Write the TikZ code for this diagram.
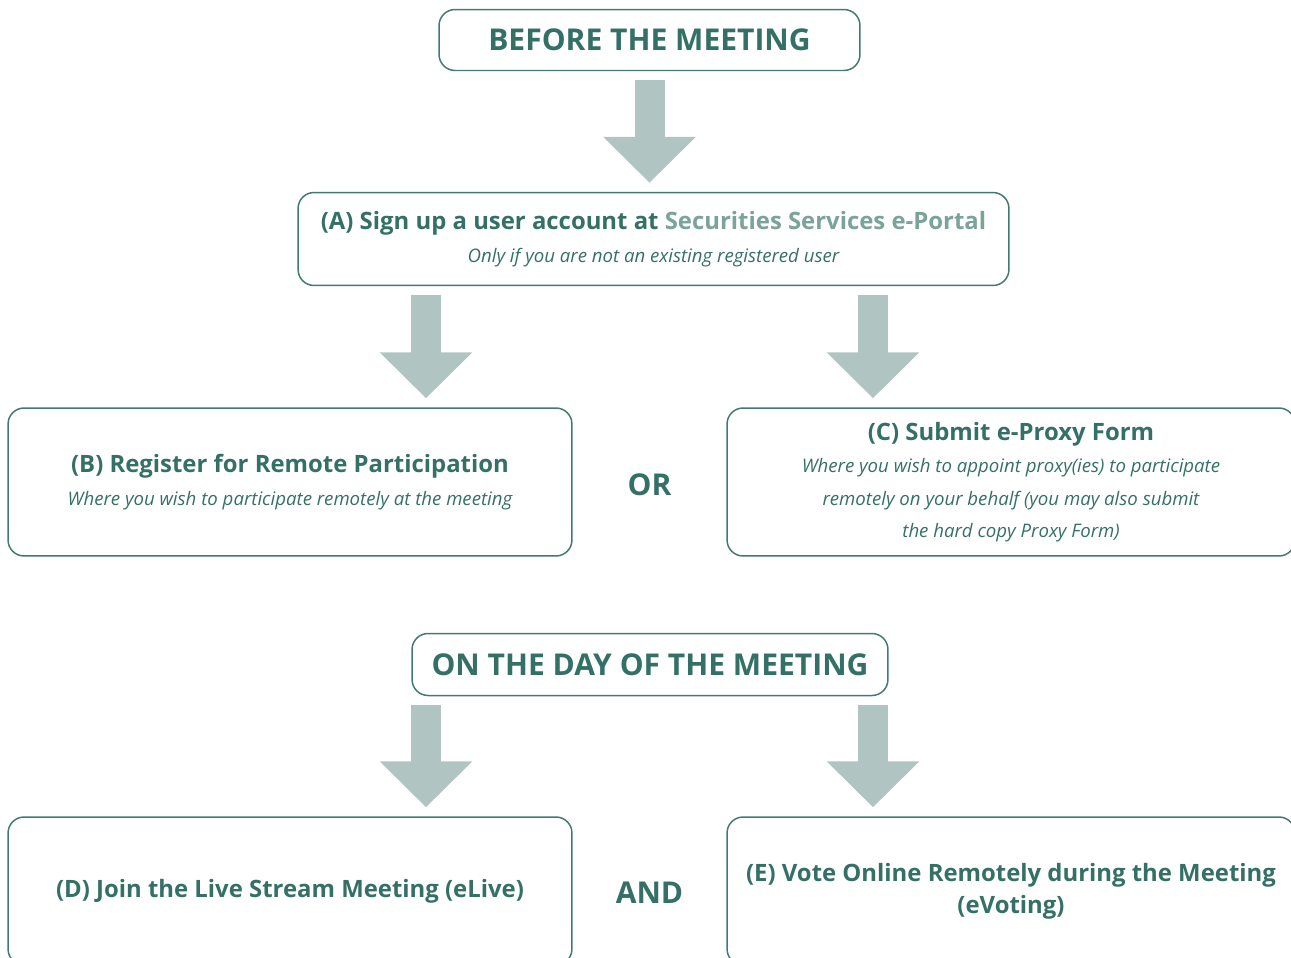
\documentclass[tikz,border=0pt]{standalone}
\usepackage{fontspec}
\setmainfont{Open Sans}
\usepackage{tikz}
\usetikzlibrary{arrows.meta, calc}

\definecolor{teal}{RGB}{52,112,102}
\definecolor{portal}{RGB}{122,163,153}
\definecolor{frame}{RGB}{66,122,112}
\definecolor{shaft}{RGB}{176,196,193}

\begin{document}
\begin{tikzpicture} [x=0.02cm, y=-0.02cm,
	box/.style={draw=frame, line width=0.85pt, rounded corners=0.32cm, align=center,
		text=teal, inner sep=0pt, minimum width=11.28cm, minimum height=2.96cm,
		font=\fontsize{13.6}{18.4}\selectfont\bfseries},
	wide/.style={box, minimum width=11.36cm},
	head/.style={box, minimum height=1.22cm, font=\fontsize{17.1}{20}\selectfont\bfseries},
	word/.style={text=teal, font=\fontsize{17.1}{20}\selectfont\bfseries},
	bigarrow/.style={draw=shaft, line width=0.6cm, shorten <=9*0.02cm, shorten >=9*0.02cm,
		-{Triangle[width=1.8cm, length=0.92cm, fill=shaft]}}]
	% sub/.style for the italic lines
	\newcommand{\sub}{\fontsize{10.6}{18.4}\selectfont\mdseries\itshape}

	\useasboundingbox (0,0) rectangle (1291,957);

	\node[head, minimum width=8.42cm] (before) at (649.5,40) {BEFORE THE MEETING};
	\node[box, minimum width=14.22cm, minimum height=1.86cm] (signup) at (653.5,239)
		{(A) Sign up a user account at \textcolor{portal}{Securities Services e-Portal}\\
		{\sub Only if you are not an existing registered user}};
	\node[box] (register) at (290,482)
		{(B) Register for Remote Participation\\
		{\sub Where you wish to participate remotely at the meeting}};
	\node[wide] (proxy) at (1011,482)
		{(C) Submit e-Proxy Form\\
		{\sub Where you wish to appoint proxy(ies) to participate}\\
		{\sub remotely on your behalf (you may also submit}\\
		{\sub the hard copy Proxy Form)}};
	\node[word] (or) at (649.5,485) {OR};

	\node[head, minimum width=9.52cm, minimum height=1.24cm] (day) at (650,664.5) {ON THE DAY OF THE MEETING};
	\node[box] (live) at (290,891) {(D) Join the Live Stream Meeting (eLive)};
	\node[wide] (vote) at (1011,891) {(E) Vote Online Remotely during the Meeting\\(eVoting)};
	\node[word] (and) at (649.5,893) {AND};

	\draw[bigarrow] (before.south) -- (signup.north -| before.south);
	\draw[bigarrow] ($(signup.south)+(-227.5,0)$) coordinate (s1) -- (s1 |- register.north);
	\draw[bigarrow] ($(signup.south)+(219.5,0)$) coordinate (s2) -- (s2 |- proxy.north);
	\draw[bigarrow] ($(day.south)+(-224,0)$) coordinate (d1) -- (d1 |- live.north);
	\draw[bigarrow] ($(day.south)+(223,0)$) coordinate (d2) -- (d2 |- vote.north);

\end{tikzpicture}
\end{document}
